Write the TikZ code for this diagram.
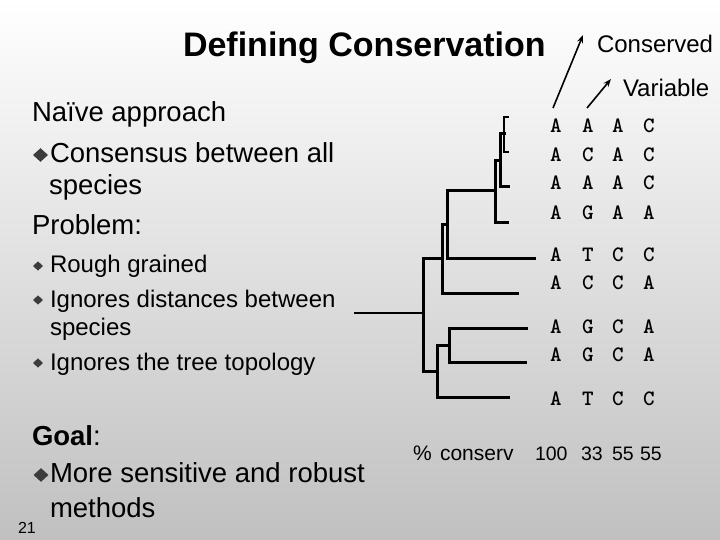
\documentclass[tikz,border=0pt]{standalone}
\usepackage{fontspec}
\setmainfont{Liberation Sans}
\usetikzlibrary{arrows.meta}
\definecolor{bgbottom}{RGB}{192,192,192}
\definecolor{bulletcol}{RGB}{60,60,60}
\tikzset{
  txt/.style={anchor=base west, inner sep=0pt, outer sep=0pt, text=black},
  lvlone/.style={txt, font=\fontsize{27.5}{32}\selectfont},
  lvltwo/.style={txt, font=\fontsize{24}{28}\selectfont},
  seq/.style={anchor=base, inner sep=0pt, font=\ttfamily\bfseries\fontsize{22}{26}\selectfont},
  branch/.style={line width=3pt, line cap=rect, line join=miter},
  thinbranch/.style={line width=2pt, line cap=rect},
  pointer/.style={line width=1.6pt, -{Stealth[length=8pt,width=6pt]}},
}
\newcommand{\bigbullet}[2]{\fill[bulletcol] (#1-7.5,#2) -- (#1,#2-6.8) -- (#1+7.5,#2) -- (#1,#2+6.8) -- cycle;}
\newcommand{\smallbullet}[2]{\fill[bulletcol] (#1-5,#2) -- (#1,#2-4.6) -- (#1+5,#2) -- (#1,#2+4.6) -- cycle;}
\begin{document}
\begin{tikzpicture}[x=1pt,y=-1pt]
\useasboundingbox (0,0) rectangle (720,540);
\shade[top color=white, bottom color=bgbottom] (0,0) rectangle (720,540);

% title and labels
\node[txt, font=\fontsize{34}{38}\selectfont\bfseries] (title) at (183,57) {Defining Conservation};
\node[txt, font=\fontsize{24}{28}\selectfont] (cons) at (597,53) {Conserved};
\node[txt, font=\fontsize{24}{28}\selectfont] (var) at (623,97) {Variable};

% left text
\node[lvlone] (naive) at (32,122) {Naïve approach};
\bigbullet{40.5}{155}
\node[lvlone] (consensus) at (50,163) {Consensus between all};
\node[lvlone] (species1) at (49,195) {species};
\node[lvlone] (problem) at (32,235) {Problem:};
\smallbullet{38}{266}
\node[lvltwo] (rough) at (50,272) {Rough grained};
\smallbullet{38}{300}
\node[lvltwo] (ign1) at (50,307) {Ignores distances between};
\node[lvltwo] (species2) at (50,335) {species};
\smallbullet{38}{363}
\node[lvltwo] (ign2) at (50,370) {Ignores the tree topology};
\node[lvlone] (goal) at (32,445) {\textbf{Goal}:};
\bigbullet{41}{475}
\node[lvlone] (more) at (50,482) {More sensitive and robust};
\node[lvlone] (methods) at (50,517) {methods};
\node[txt, font=\fontsize{16}{18}\selectfont] (pagenum) at (18,533) {21};

% alignment letters
\foreach \row/\y/\a/\b/\c/\d in {1/133/A/A/A/C, 2/162/A/C/A/C, 3/190/A/A/A/C, 4/219/A/G/A/A,
    5/261/A/T/C/C, 6/289/A/C/C/A, 7/333/A/G/C/A, 8/361/A/G/C/A, 9/405/A/T/C/C}{
  \node[seq] (s\row a) at (556,\y) {\a};
  \node[seq] (s\row b) at (588,\y) {\b};
  \node[seq] (s\row c) at (618,\y) {\c};
  \node[seq] (s\row d) at (649,\y) {\d};
}

% percent conservation
\node[txt, font=\fontsize{21}{24}\selectfont] (pct) at (413,460) {\%};
\node[txt, font=\fontsize{21}{24}\selectfont] (conserv) at (440,460) {conserv};
\node[txt, font=\fontsize{19.5}{22}\selectfont] (n1) at (535,460) {100};
\node[txt, font=\fontsize{19.5}{22}\selectfont] (n2) at (581,460) {33};
\node[txt, font=\fontsize{19.5}{22}\selectfont] (n3) at (612,460) {55};
\node[txt, font=\fontsize{19.5}{22}\selectfont] (n4) at (640,460) {55};

% arrows
\coordinate (consfrom) at (553,108);
\coordinate (consto) at (583,35);
\coordinate (varfrom) at (587,108);
\coordinate (varto) at (611,79);
\draw[pointer] (consfrom) -- (consto);
\draw[pointer] (varfrom) -- (varto);

% tree
\coordinate (rootstart) at (355,313);
\coordinate (E) at (423,313);
\draw[thinbranch] (rootstart) -- (E);
% top bracket (leaves 1,2)
\draw[thinbranch] (508,117) -- (504,117) -- (504,152) -- (508,152);
% node A
\draw[branch] (504,134) -- (500,134) -- (500,187) -- (508,187);
% node B
\draw[branch] (500,161) -- (495,161) -- (495,223) -- (507,223);
% node C
\draw[branch] (495,191) -- (447,191) -- (447,258) -- (534,258);
% node D
\draw[branch] (447,225) -- (442,225) -- (442,293) -- (517,293);
% root E
\draw[branch] (442,258) -- (423,258) -- (423,371) -- (437,371);
% node F
\draw[branch] (449,345) -- (437,345) -- (437,397) -- (508,397);
% node G
\draw[branch] (526,328) -- (449,328) -- (449,362) -- (525,362);
\end{tikzpicture}
\end{document}
